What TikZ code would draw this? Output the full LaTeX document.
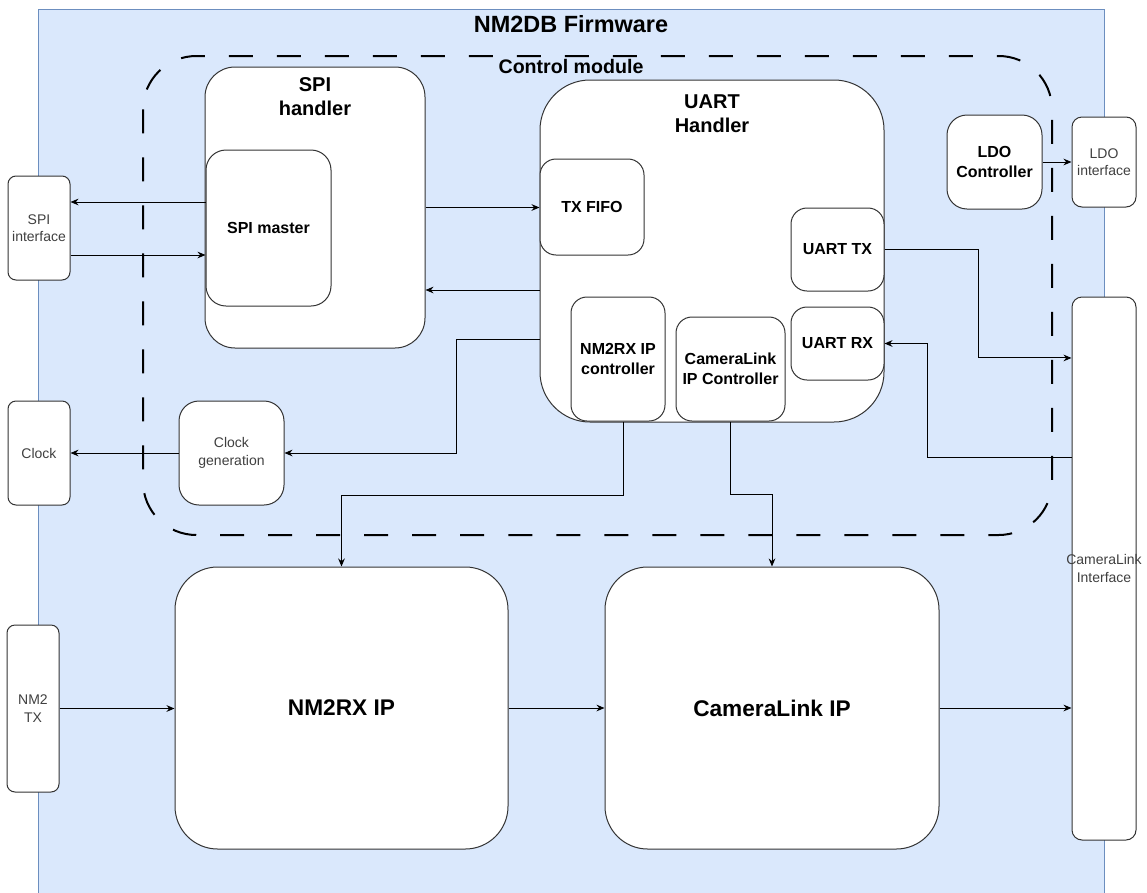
\documentclass[tikz,border=0pt]{standalone}
\usepackage{fontspec}
\setmainfont{Liberation Sans}
\usepackage{tikz}
\usetikzlibrary{arrows.meta}
\definecolor{fwfill}{HTML}{DAE8FC}
\definecolor{fwline}{HTML}{6C8EBF}
\definecolor{boxline}{HTML}{333333}
\definecolor{iftext}{HTML}{404040}

\tikzset{
  blk/.style = {draw = boxline, fill = white, line width = 0.75pt, inner sep = 0pt, align = center, rounded corners = #1},
  blk/.default = 15pt,
  sz/.style 2 args = {minimum width = #1, minimum height = #2},
  ifc/.style = {blk = 6pt, text = iftext, font = \fontsize{10.5}{13}\selectfont},
  sub/.style = {blk = 12pt, font = \fontsize{12}{15}\selectfont\bfseries},
  big/.style = {blk = 32pt, font = \fontsize{17}{20}\selectfont\bfseries},
  hdr/.style = {align = center, inner sep = 0pt, font = \fontsize{15}{18.25}\selectfont\bfseries},
  arr/.style = {-{Stealth[length = 6pt, width = 5pt]}, line width = 0.75pt, black},
  ctrl/.style = {line width = 1.5pt, dash pattern = on 18pt off 18pt, rounded corners = 40pt}
}

\begin{document}
\begin{tikzpicture}[x = 0.75pt, y = -0.75pt]
\useasboundingbox (0,0) rectangle (1147,893);
\fill[fwfill] (38,9) rectangle (1104,893);
\draw[fwline, line width = 0.75pt] (38,893) -- (38,9) -- (1104,9) -- (1104,893);
\node[hdr, font = \fontsize{17.6}{21}\selectfont\bfseries] (fwtitle) at (571,24) {NM2DB Firmware};
\draw[ctrl] (143,56) rectangle (1052,535);
\node[hdr, font = \fontsize{14.7}{18}\selectfont\bfseries] (ctrltitle) at (571,66.5) {Control module};

\node[blk = 22.5pt, sz = {165pt}{210.75pt}] (spih) at (315,207.5) {};
\node[hdr] (spihtxt) at (315,96.5) {SPI\\handler};
\node[sub, blk = 15pt, sz = {93.75pt}{117pt}] (spim) at (268.5,228) {SPI master};
\node[ifc, sz = {46.5pt}{78pt}] (spii) at (39,228) {SPI\\interface};

\node[blk = 37.5pt, sz = {258pt}{256.5pt}] (uart) at (712,251) {};
\node[hdr] (uarttxt) at (712,113.5) {UART\\Handler};
\node[sub, sz = {78pt}{72pt}] (txfifo) at (592,207) {TX FIFO};
\node[sub, sz = {69.75pt}{62.25pt}] (uarttx) at (837.5,249.5) {UART TX};
\node[sub, sz = {69.75pt}{54.75pt}] (uartrx) at (837.5,343.5) {UART RX};
\node[sub, sz = {70.5pt}{93pt}] (nmctl) at (618,359) {NM2RX IP\\controller};
\node[sub, sz = {81.75pt}{78pt}] (clctl) at (730.5,369) {CameraLink\\IP Controller};

\node[sub, blk = 15pt, sz = {71.25pt}{70.5pt}] (ldoc) at (994.5,162) {LDO\\Controller};
\node[ifc, blk = 7.5pt, sz = {48pt}{67.5pt}] (ldoi) at (1104,162) {LDO\\interface};
\node[ifc, blk = 7.5pt, sz = {48pt}{407.25pt},
  label = {[text = iftext, font = \fontsize{10.5}{13}\selectfont, align = center, inner sep = 0pt]center:CameraLink\\Interface}] (cli) at (1104,568.5) {};

\node[ifc, sz = {46.5pt}{78pt}] (clock) at (39,453) {Clock};
\node[ifc, blk = 15pt, sz = {78.75pt}{78pt}] (clkgen) at (231.5,453) {Clock\\generation};

\node[big, sz = {249.75pt}{211.5pt}] (nm2rx) at (341.5,708) {NM2RX IP};
\node[big, sz = {250.5pt}{211.5pt}] (clip) at (772,708) {CameraLink IP};
\node[ifc, sz = {39pt}{125.25pt}] (nm2tx) at (33,708.5) {NM2\\TX};

\draw[arr] ([yshift = 19.5pt]spim.west) -- ([yshift = 19.5pt]spii.east);
\draw[arr] ([yshift = -20.25pt]spii.east) -- ([yshift = -20.25pt]spim.west);
\draw[arr] (spih.east) -- (spih.east -| txfifo.west);
\draw[arr] ([yshift = -29.25pt]uart.west) -- ([yshift = -29.25pt]uart.west -| spih.east);
\draw[arr] ([yshift = -66pt]uart.west) -| ([xshift = 129pt]clkgen.east) -- (clkgen.east);
\foreach \a/\b in {clkgen.west/clock.east, ldoc.east/ldoi.west, nm2rx.east/clip.west}{
  \draw[arr] (\a) -- (\b);
}
\draw[arr] (nm2tx.east) -- (nm2tx.east -| nm2rx.west);
\draw[arr] (clip.east) -- (clip.east -| cli.west);
\draw[arr] ([xshift = 3.75pt]nmctl.south) -- ++(0,74) -| (nm2rx.north);
\draw[arr] (clctl.south) -- ++(0,73) -| (clip.north);
\draw[arr] (uarttx.east) -- ++(94,0) |- ([yshift = 157.9pt]cli.west);
\draw[arr] ([yshift = 83.6pt]cli.west) -| ([xshift = 32.25pt]uartrx.east) -- (uartrx.east);
\end{tikzpicture}
\end{document}
